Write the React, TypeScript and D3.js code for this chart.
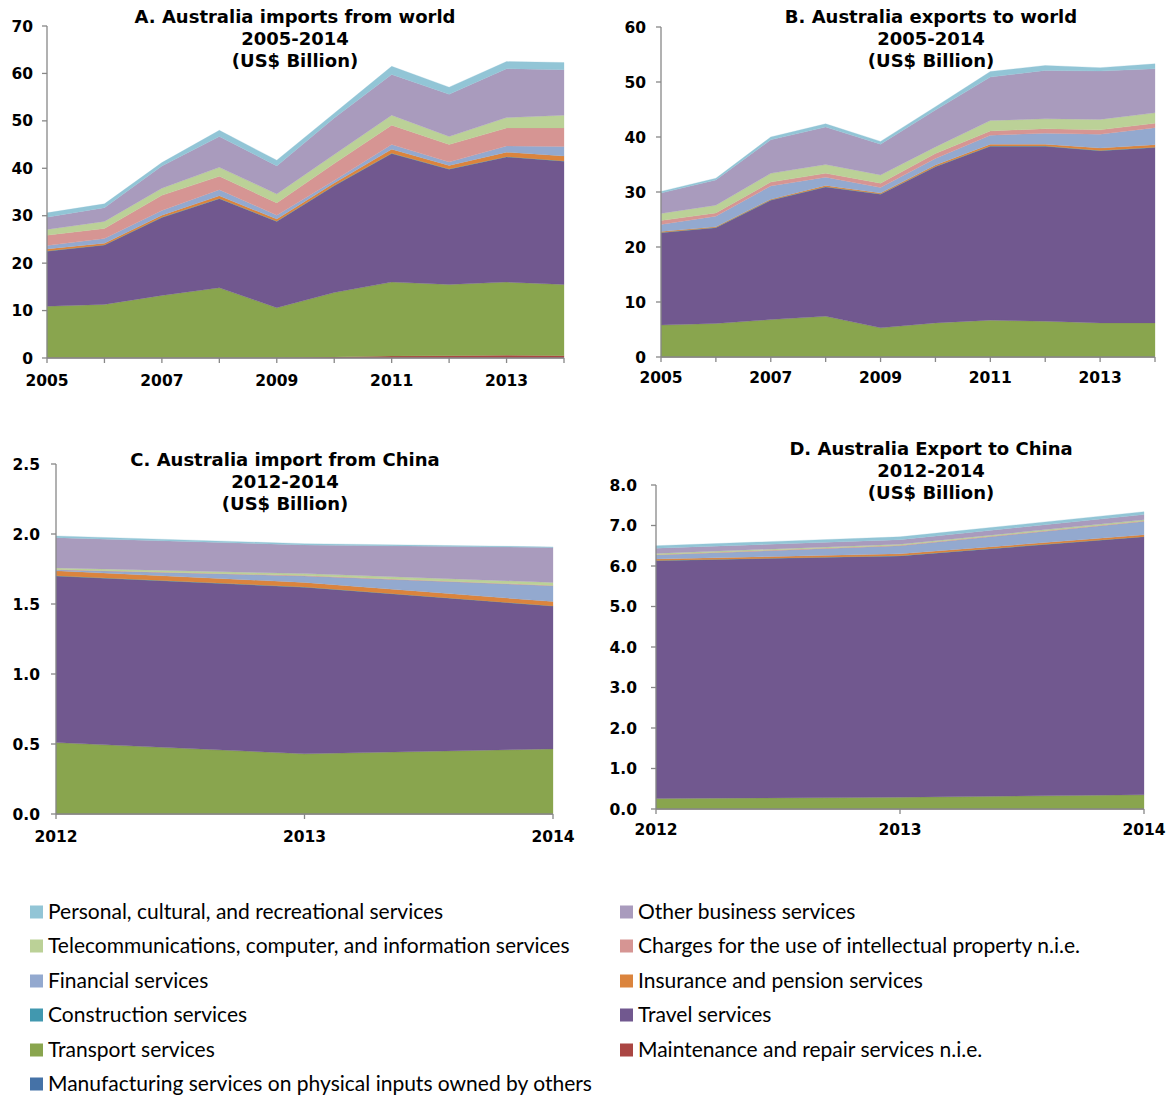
import React from 'react';
import * as d3 from 'd3';

// ---------- categories ----------
const worldYears = [2005, 2006, 2007, 2008, 2009, 2010, 2011, 2012, 2013, 2014];
const chinaYears = [2012, 2013, 2014];

// stack order from bottom to top
const seriesKeys = [
  'manufacturing', 'maintenance', 'transport', 'travel', 'construction',
  'insurance', 'financial', 'charges', 'telecom', 'other', 'personal',
];
const seriesLabels: Record<string, string> = {
  manufacturing: 'Manufacturing services on physical inputs owned by others',
  maintenance: 'Maintenance and repair services n.i.e.',
  transport: 'Transport services',
  travel: 'Travel services',
  construction: 'Construction services',
  insurance: 'Insurance and pension services',
  financial: 'Financial services',
  charges: 'Charges for the use of intellectual property n.i.e.',
  telecom: 'Telecommunications, computer, and information services',
  other: 'Other business services',
  personal: 'Personal, cultural, and recreational services',
};
const seriesColors: Record<string, string> = {
  manufacturing: '#4572A7',
  maintenance: '#AA4643',
  transport: '#89A54E',
  travel: '#71588F',
  construction: '#4198AF',
  insurance: '#DB843D',
  financial: '#93A9CF',
  charges: '#D69593',
  telecom: '#BBD197',
  other: '#A99BBD',
  personal: '#92C5D6',
};
const legendLeft = ['personal', 'telecom', 'financial', 'construction', 'transport', 'manufacturing'];
const legendRight = ['other', 'charges', 'insurance', 'travel', 'maintenance'];

// ---------- A. imports from world (US$ bn) ----------
const aManufacturing = [0, 0, 0, 0, 0, 0, 0, 0, 0, 0];
const aMaintenance = [0.1, 0.1, 0.1, 0.1, 0.1, 0.2, 0.4, 0.5, 0.6, 0.5];
const aTransport = [10.8, 11.2, 13.1, 14.7, 10.5, 13.6, 15.6, 15.0, 15.4, 15.0];
const aTravel = [11.6, 12.5, 16.4, 18.8, 18.2, 22.5, 27.1, 24.3, 26.4, 26.0];
const aConstruction = [0.05, 0.05, 0.05, 0.05, 0.05, 0.05, 0.05, 0.05, 0.05, 0.05];
const aInsurance = [0.45, 0.35, 0.45, 0.55, 0.45, 0.55, 0.85, 0.75, 0.95, 1.05];
const aFinancial = [0.7, 1.0, 1.0, 1.3, 0.8, 0.5, 1.0, 0.7, 1.3, 2.0];
const aCharges = [2.2, 2.1, 3.2, 2.8, 2.6, 3.6, 4.1, 3.7, 3.8, 3.9];
const aTelecom = [1.2, 1.5, 1.5, 1.9, 1.9, 1.9, 2.1, 1.7, 2.2, 2.7];
const aOther = [2.6, 2.9, 4.7, 6.5, 5.9, 7.7, 8.6, 8.9, 10.3, 9.6];
const aPersonal = [0.9, 0.8, 0.7, 1.3, 1.2, 1.0, 1.7, 1.5, 1.5, 1.5];

// ---------- B. exports to world (US$ bn) ----------
const bManufacturing = [0, 0, 0, 0, 0, 0, 0, 0, 0, 0];
const bMaintenance = [0, 0, 0, 0, 0, 0, 0, 0, 0, 0];
const bTransport = [5.8, 6.1, 6.8, 7.4, 5.3, 6.2, 6.7, 6.5, 6.2, 6.2];
const bTravel = [16.8, 17.4, 21.7, 23.5, 24.3, 28.4, 31.6, 31.8, 31.3, 31.9];
const bConstruction = [0.05, 0.05, 0.05, 0.05, 0.05, 0.05, 0.05, 0.05, 0.05, 0.05];
const bInsurance = [0.15, 0.15, 0.15, 0.25, 0.15, 0.25, 0.35, 0.35, 0.45, 0.45];
const bFinancial = [1.3, 1.9, 2.4, 1.5, 1.0, 1.2, 1.6, 2.0, 2.5, 3.1];
const bCharges = [0.7, 0.6, 0.7, 0.7, 0.8, 0.9, 0.8, 0.8, 0.8, 0.8];
const bTelecom = [1.3, 1.4, 1.6, 1.6, 1.5, 1.2, 1.9, 1.8, 1.9, 1.9];
const bOther = [3.7, 4.6, 6.1, 6.8, 5.6, 6.7, 7.9, 8.8, 8.8, 8.0];
const bPersonal = [0.3, 0.3, 0.5, 0.6, 0.5, 0.6, 1.0, 0.9, 0.6, 0.9];

// ---------- C. imports from China (US$ bn) ----------
const cManufacturing = [0, 0, 0];
const cMaintenance = [0, 0, 0];
const cTransport = [0.51, 0.43, 0.465];
const cTravel = [1.19, 1.19, 1.02];
const cConstruction = [0.001, 0.001, 0.001];
const cInsurance = [0.036, 0.033, 0.031];
const cFinancial = [0.007, 0.046, 0.113];
const cCharges = [0.003, 0.003, 0.003];
const cTelecom = [0.011, 0.014, 0.021];
const cOther = [0.216, 0.205, 0.249];
const cPersonal = [0.012, 0.009, 0.005];

// ---------- D. exports to China (US$ bn) ----------
const dManufacturing = [0, 0, 0];
const dMaintenance = [0, 0, 0];
const dTransport = [0.26, 0.29, 0.35];
const dTravel = [5.87, 5.96, 6.37];
const dConstruction = [0.005, 0.005, 0.005];
const dInsurance = [0.035, 0.045, 0.045];
const dFinancial = [0.10, 0.20, 0.33];
const dCharges = [0.01, 0.01, 0.01];
const dTelecom = [0.03, 0.03, 0.03];
const dOther = [0.13, 0.11, 0.13];
const dPersonal = [0.06, 0.07, 0.07];

// ---------- axis ticks ----------
const aYTicks = [0, 10, 20, 30, 40, 50, 60, 70];
const bYTicks = [0, 10, 20, 30, 40, 50, 60];
const cYTicks = [0, 0.5, 1.0, 1.5, 2.0, 2.5];
const dYTicks = [0, 1, 2, 3, 4, 5, 6, 7, 8];
const worldXLabels = [2005, 2007, 2009, 2011, 2013];
const chinaXLabels = [2012, 2013, 2014];

const aTitle = ['A. Australia imports from world', '2005-2014', '(US$ Billion)'];
const bTitle = ['B. Australia exports to world', '2005-2014', '(US$ Billion)'];
const cTitle = ['C. Australia import from China', '2012-2014', '(US$ Billion)'];
const dTitle = ['D. Australia Export to China', '2012-2014', '(US$ Billion)'];

const AXIS = '#878787';
const TICK_FONT = '"DejaVu Sans", Verdana, sans-serif';

type PanelProps = {
  years: number[];
  series: number[][];
  yTicks: number[];
  decimals: number;
  xLabels: number[];
  title: string[];
  box: { x0: number; x1: number; yTop: number; yBottom: number; titleX: number; titleY: number; labelGap: number; xLabelY: number };
};

function Panel({ years, series, yTicks, decimals, xLabels, title, box }: PanelProps) {
  const x = d3.scaleLinear().domain([years[0], years[years.length - 1]]).range([box.x0, box.x1]);
  const y = d3.scaleLinear().domain([0, yTicks[yTicks.length - 1]]).range([box.yBottom, box.yTop]);
  const rows = years.map((yr, i) => {
    const r: any = { year: yr };
    seriesKeys.forEach((k, j) => (r[k] = series[j][i]));
    return r;
  });
  const stacked = d3.stack<any>().keys(seriesKeys)(rows);
  const area = d3
    .area<any>()
    .x((d) => x(d.data.year))
    .y0((d) => y(d[0]))
    .y1((d) => y(d[1]));
  const fmt = d3.format(`.${decimals}f`);
  return (
    <g>
      {stacked.map((layer) => (
        <path
          key={layer.key}
          d={area(layer) || ''}
          fill={seriesColors[layer.key]}
          stroke={seriesColors[layer.key]}
          strokeWidth={0.3}
        />
      ))}
      <line x1={box.x0} x2={box.x0} y1={box.yTop} y2={box.yBottom} stroke={AXIS} strokeWidth={1.3} />
      <line x1={box.x0} x2={box.x1} y1={box.yBottom} y2={box.yBottom} stroke={AXIS} strokeWidth={1.3} />
      {yTicks.map((t) => (
        <g key={'y' + t}>
          <line x1={box.x0 - 5} x2={box.x0} y1={y(t)} y2={y(t)} stroke={AXIS} strokeWidth={1.3} />
          <text
            x={box.x0 - box.labelGap}
            y={y(t) + 5.5}
            textAnchor="end"
            fontFamily={TICK_FONT}
            fontWeight="bold"
            fontSize={15.5}
            fill="#000"
          >
            {fmt(t)}
          </text>
        </g>
      ))}
      {years.map((yr) => (
        <line key={'xt' + yr} x1={x(yr)} x2={x(yr)} y1={box.yBottom} y2={box.yBottom + 5} stroke={AXIS} strokeWidth={1.3} />
      ))}
      {xLabels.map((yr) => (
        <text
          key={'xl' + yr}
          x={x(yr)}
          y={box.xLabelY}
          textAnchor="middle"
          fontFamily={TICK_FONT}
          fontWeight="bold"
          fontSize={15.5}
          fill="#000"
        >
          {yr}
        </text>
      ))}
      {title.map((line, i) => (
        <text
          key={'t' + i}
          x={box.titleX}
          y={box.titleY + i * 22}
          textAnchor="middle"
          fontFamily={TICK_FONT}
          fontWeight="bold"
          fontSize={18}
          fill="#000"
        >
          {line}
        </text>
      ))}
    </g>
  );
}

export default function App() {
  const legendRows = [912, 946, 981, 1015, 1050, 1084];
  return (
    <svg
      width={1173}
      height={1097}
      style={{ position: 'absolute', left: 0, top: 0, background: '#fff' }}
    >
      <rect x={0} y={0} width={1173} height={1097} fill="#fff" />
      <Panel
        years={worldYears}
        series={[aManufacturing, aMaintenance, aTransport, aTravel, aConstruction, aInsurance, aFinancial, aCharges, aTelecom, aOther, aPersonal]}
        yTicks={aYTicks}
        decimals={0}
        xLabels={worldXLabels}
        title={aTitle}
        box={{ x0: 47, x1: 564, yTop: 26, yBottom: 358, titleX: 295, titleY: 23, labelGap: 14, xLabelY: 386 }}
      />
      <Panel
        years={worldYears}
        series={[bManufacturing, bMaintenance, bTransport, bTravel, bConstruction, bInsurance, bFinancial, bCharges, bTelecom, bOther, bPersonal]}
        yTicks={bYTicks}
        decimals={0}
        xLabels={worldXLabels}
        title={bTitle}
        box={{ x0: 661, x1: 1155, yTop: 27, yBottom: 357, titleX: 931, titleY: 23, labelGap: 15, xLabelY: 383 }}
      />
      <Panel
        years={chinaYears}
        series={[cManufacturing, cMaintenance, cTransport, cTravel, cConstruction, cInsurance, cFinancial, cCharges, cTelecom, cOther, cPersonal]}
        yTicks={cYTicks}
        decimals={1}
        xLabels={chinaXLabels}
        title={cTitle}
        box={{ x0: 56, x1: 553, yTop: 464, yBottom: 814, titleX: 285, titleY: 466, labelGap: 16, xLabelY: 842 }}
      />
      <Panel
        years={chinaYears}
        series={[dManufacturing, dMaintenance, dTransport, dTravel, dConstruction, dInsurance, dFinancial, dCharges, dTelecom, dOther, dPersonal]}
        yTicks={dYTicks}
        decimals={1}
        xLabels={chinaXLabels}
        title={dTitle}
        box={{ x0: 656, x1: 1144, yTop: 485, yBottom: 809, titleX: 931, titleY: 455, labelGap: 19, xLabelY: 835 }}
      />
      {[legendLeft, legendRight].map((col, ci) =>
        col.map((k, ri) => (
          <g key={k}>
            <rect
              x={ci === 0 ? 30 : 620}
              y={legendRows[ri] - 6.5}
              width={13}
              height={13}
              fill={seriesColors[k]}
            />
            <text
              x={ci === 0 ? 48 : 638}
              y={legendRows[ri] + 7}
              fontFamily='Lato, "Open Sans", sans-serif'
              fontSize={21}
              fill="#000"
            >
              {seriesLabels[k]}
            </text>
          </g>
        ))
      )}
    </svg>
  );
}
